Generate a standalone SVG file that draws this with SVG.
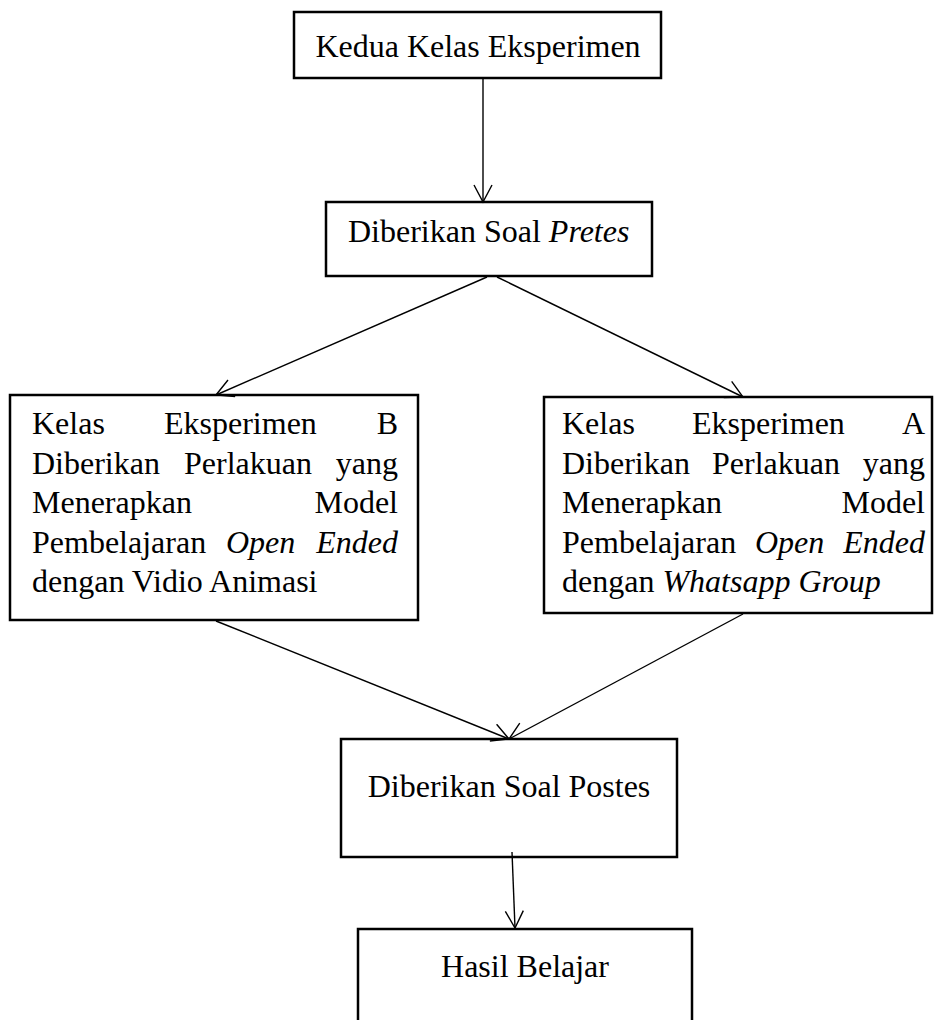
<svg xmlns="http://www.w3.org/2000/svg" width="934" height="1020" viewBox="0 0 934 1020">
<style>
.box{fill:#fff;stroke:#000;stroke-width:2.5}
.t{font-family:"Liberation Serif","Times New Roman",serif;font-size:32px;fill:#000}
.i{font-style:italic}
.c{fill:none;stroke:#000;stroke-width:1.4}
</style>
<defs>
<marker id="ah" viewBox="0 0 20 20" refX="18" refY="10" markerWidth="20" markerHeight="20" markerUnits="userSpaceOnUse" orient="auto">
<path d="M1,1 L18,10 L1,19" fill="none" stroke="#000" stroke-width="1.4"/>
</marker>
</defs>
<g id="n1">
<rect class="box" x="294" y="12" width="367" height="66"/>
<text class="t" x="478" y="57" text-anchor="middle">Kedua Kelas Eksperimen</text>
</g>
<g id="n2">
<rect class="box" x="326" y="202" width="326" height="74"/>
<text class="t" x="348" y="242">Diberikan Soal <tspan class="i">Pretes</tspan></text>
</g>
<g id="n3">
<rect class="box" x="10" y="395" width="408" height="225"/>
<text class="t" x="32" y="434">Kelas</text>
<text class="t" x="164" y="434">Eksperimen</text>
<text class="t" x="398" y="434" text-anchor="end">B</text>
<text class="t" x="32" y="473.5">Diberikan</text>
<text class="t" x="184" y="473.5">Perlakuan</text>
<text class="t" x="398" y="473.5" text-anchor="end">yang</text>
<text class="t" x="32" y="513">Menerapkan</text>
<text class="t" x="398" y="513" text-anchor="end">Model</text>
<text class="t" x="32" y="552.5">Pembelajaran</text>
<text class="t i" x="226" y="552.5">Open</text>
<text class="t i" x="398" y="552.5" text-anchor="end">Ended</text>
<text class="t" x="32" y="592">dengan Vidio Animasi</text>
</g>
<g id="n4">
<rect class="box" x="544" y="397" width="388" height="216"/>
<text class="t" x="562" y="434">Kelas</text>
<text class="t" x="692" y="434">Eksperimen</text>
<text class="t" x="925" y="434" text-anchor="end">A</text>
<text class="t" x="562" y="473.5">Diberikan</text>
<text class="t" x="712" y="473.5">Perlakuan</text>
<text class="t" x="925" y="473.5" text-anchor="end">yang</text>
<text class="t" x="562" y="513">Menerapkan</text>
<text class="t" x="925" y="513" text-anchor="end">Model</text>
<text class="t" x="562" y="552.5">Pembelajaran</text>
<text class="t i" x="755" y="552.5">Open</text>
<text class="t i" x="925" y="552.5" text-anchor="end">Ended</text>
<text class="t" x="562" y="592">dengan <tspan class="i">Whatsapp Group</tspan></text>
</g>
<g id="n5">
<rect class="box" x="341" y="739" width="336" height="118"/>
<text class="t" x="509" y="797" text-anchor="middle">Diberikan Soal Postes</text>
</g>
<g id="n6">
<rect class="box" x="358" y="929" width="334" height="110"/>
<text class="t" x="525" y="977" text-anchor="middle">Hasil Belajar</text>
</g>
<g id="connectors">
<line class="c" x1="483" y1="79" x2="483" y2="202" marker-end="url(#ah)"/>
<line class="c" x1="487" y1="277" x2="216" y2="395" marker-end="url(#ah)"/>
<line class="c" x1="497" y1="277" x2="743" y2="397" marker-end="url(#ah)"/>
<line class="c" x1="216" y1="621" x2="509" y2="739" marker-end="url(#ah)"/>
<line class="c" x1="743" y1="614" x2="509" y2="739" marker-end="url(#ah)"/>
<line class="c" x1="512" y1="852" x2="515" y2="928" marker-end="url(#ah)"/>
</g>
</svg>
